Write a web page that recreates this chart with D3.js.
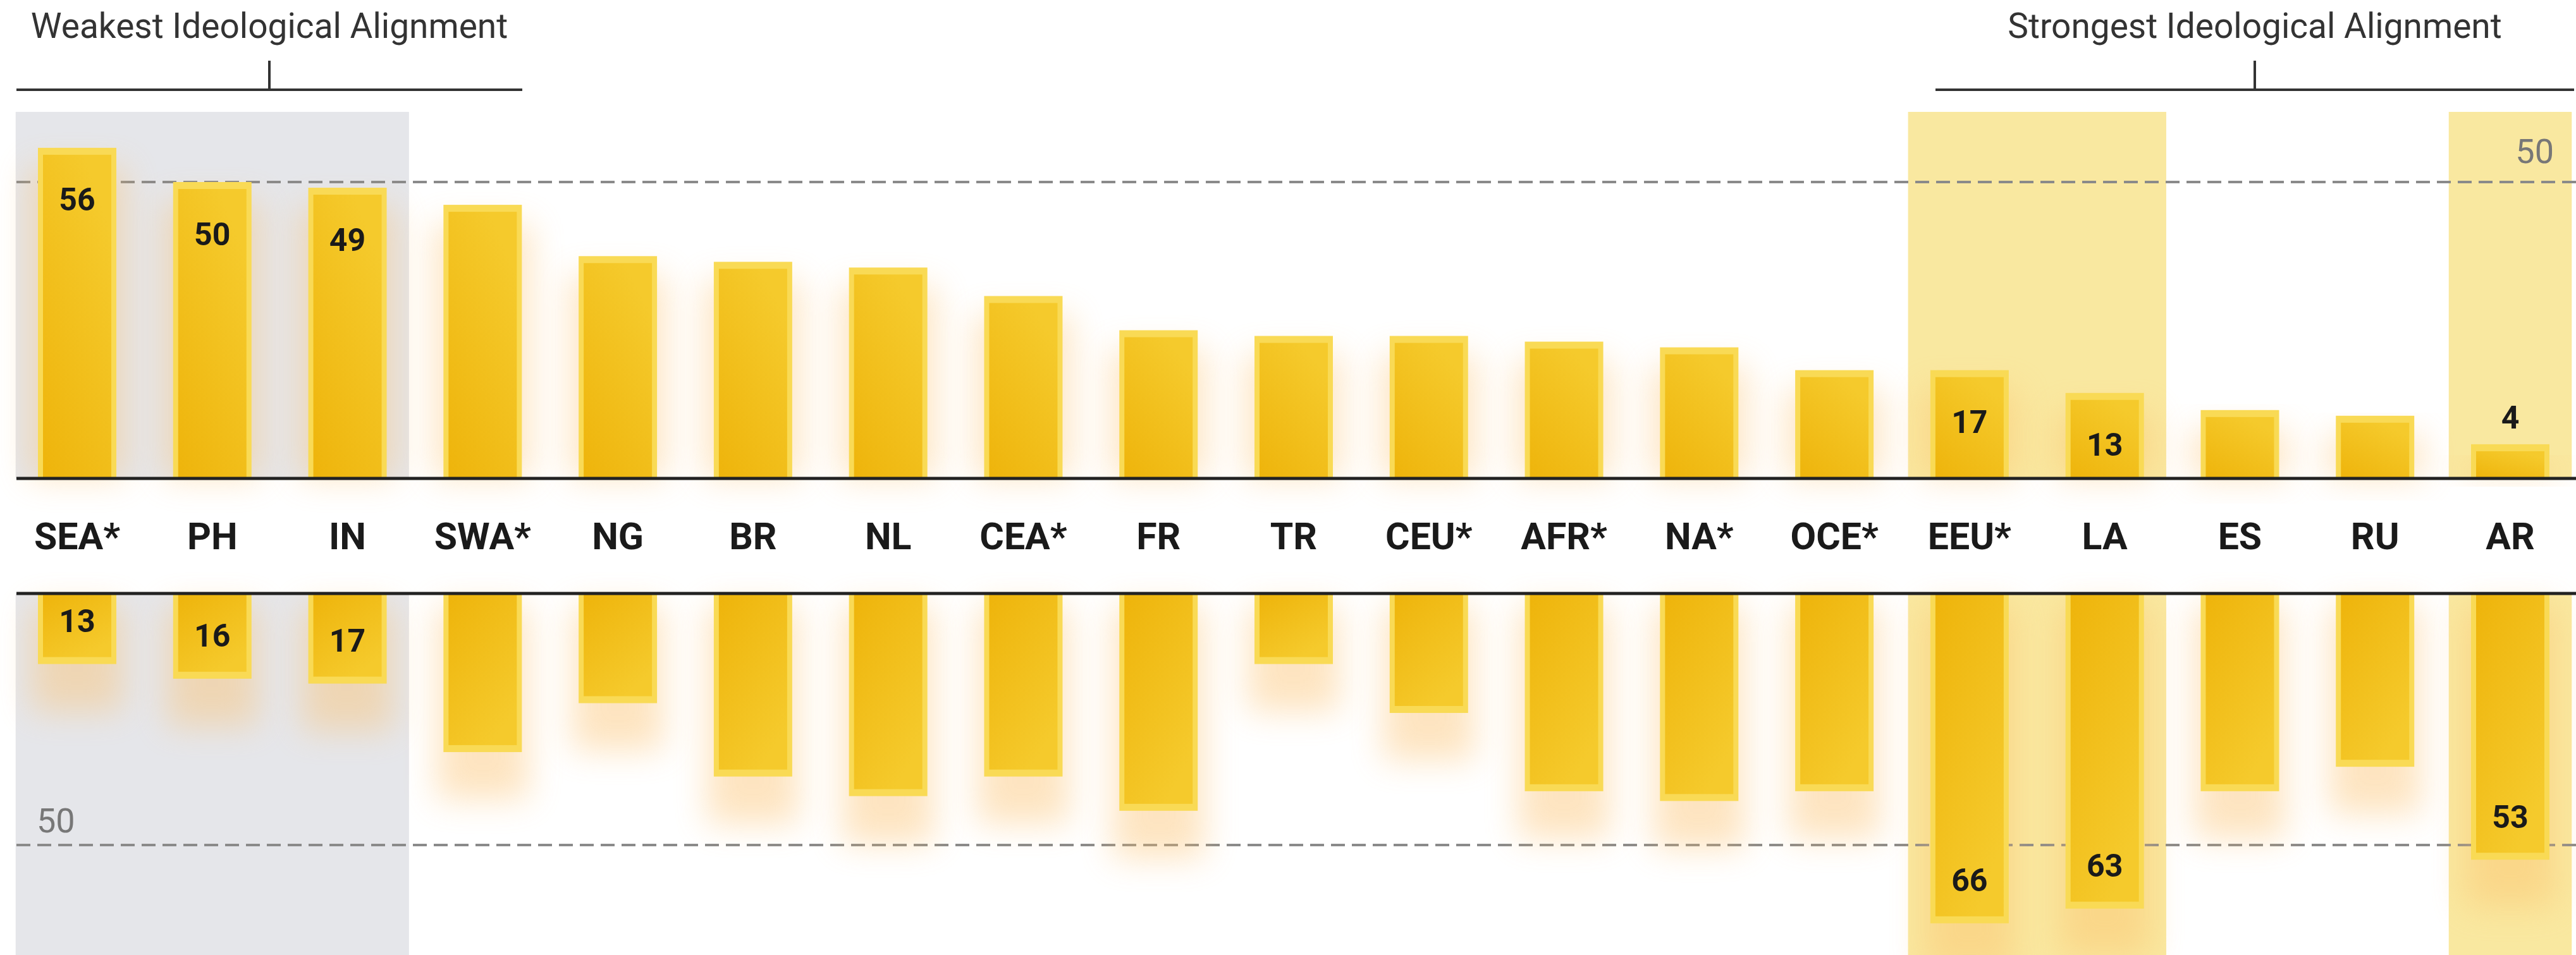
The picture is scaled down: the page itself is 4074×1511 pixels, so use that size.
<!DOCTYPE html>
<html>
<head>
<meta charset="utf-8">
<script src="https://cdn.jsdelivr.net/npm/d3@7"></script>
<style>
  body { margin: 0; background: #fff; }
  text { font-family: Roboto, "Open Sans", sans-serif; }
</style>
</head>
<body>
<script>
// data
var categories = ["SEA*", "PH", "IN", "SWA*", "NG", "BR", "NL", "CEA*", "FR", "TR",
  "CEU*", "AFR*", "NA*", "OCE*", "EEU*", "LA", "ES", "RU", "AR"];
var upperValues = [56, 50, 49, 46, 37, 36, 35, 30, 24, 23, 23, 22, 21, 17, 17, 13, 10, 9, 4];
var lowerValues = [13, 16, 17, 31, 21, 36, 40, 36, 43, 13, 23, 39, 41, 39, 66, 63, 39, 34, 53];
var labelled = ["SEA*", "PH", "IN", "EEU*", "LA", "AR"];
var weakGroup = ["SEA*", "PH", "IN"];
var strongGroups = [["EEU*", "LA"], ["AR"]];
var refValue = 50;
var weakTitle = "Weakest Ideological Alignment";
var strongTitle = "Strongest Ideological Alignment";

var W = 4074, H = 1511;
var left = 26;
var axisTop = 757, axisBottom = 939;
var stub = 18;
var side = 8, cap = 11;

var svg = d3.select("body").append("svg")
  .attr("width", W)
  .attr("height", H);

var defs = svg.append("defs");
defs.append("filter").attr("id", "glow")
  .attr("x", "-100%").attr("y", "-50%").attr("width", "300%").attr("height", "200%")
  .append("feGaussianBlur").attr("stdDeviation", 26);

var gUp = defs.append("linearGradient").attr("id", "gradUp")
  .attr("x1", 0).attr("y1", 1).attr("x2", 0.6).attr("y2", 0);
gUp.append("stop").attr("offset", "0%").attr("stop-color", "#eeb40b");
gUp.append("stop").attr("offset", "100%").attr("stop-color", "#f5ca2c");
var gDown = defs.append("linearGradient").attr("id", "gradDown")
  .attr("x1", 0).attr("y1", 0).attr("x2", 0.6).attr("y2", 1);
gDown.append("stop").attr("offset", "0%").attr("stop-color", "#eeb40b");
gDown.append("stop").attr("offset", "100%").attr("stop-color", "#f5ca2c");

var x = d3.scalePoint().domain(categories).range([122, 3970]);
var step = x.step();
var bw = step * 0.58;

// upper and lower scales (bars start a little past the axis)
var yUp = d3.scaleLinear().domain([0, refValue]).range([axisTop - stub, 288]);
var yDown = d3.scaleLinear().domain([0, refValue]).range([axisBottom + 11, 1337]);

// background bands
var halfBand = step * 0.455;
function band(cats, fill) {
  var x0 = x(cats[0]) - halfBand, x1 = x(cats[cats.length - 1]) + halfBand;
  svg.append("rect").attr("x", x0).attr("y", 177).attr("width", x1 - x0)
    .attr("height", axisTop - 177).attr("fill", fill);
  svg.append("rect").attr("x", x0).attr("y", axisBottom).attr("width", x1 - x0)
    .attr("height", H - axisBottom).attr("fill", fill);
}
band(weakGroup, "#e5e6ea");
strongGroups.forEach(function(g) { band(g, "#f9e8a0"); });

// reference lines at 50
svg.append("line").attr("x1", left).attr("x2", W)
  .attr("y1", yUp(refValue)).attr("y2", yUp(refValue))
  .attr("stroke", "#8a8a8a").attr("stroke-width", 4).attr("stroke-dasharray", "22 11");
svg.append("line").attr("x1", left).attr("x2", W)
  .attr("y1", yDown(refValue)).attr("y2", yDown(refValue))
  .attr("stroke", "#8a8a8a").attr("stroke-width", 4).attr("stroke-dasharray", "22 11");
svg.append("text").attr("x", 4039).attr("y", yUp(refValue) - 30)
  .attr("text-anchor", "end").attr("font-size", 54).attr("fill", "#777")
  .text(refValue);
svg.append("text").attr("x", 58).attr("y", yDown(refValue) - 20)
  .attr("font-size", 54).attr("fill", "#777")
  .text(refValue);

var upData = categories.map(function(c, i) { return { cat: c, v: upperValues[i] }; });
var downData = categories.map(function(c, i) { return { cat: c, v: lowerValues[i] }; });

// glows
svg.append("g").selectAll("rect").data(upData).join("rect")
  .attr("x", function(d) { return x(d.cat) - bw / 2 - 14; })
  .attr("y", function(d) { return yUp(d.v) + 30; })
  .attr("width", bw + 28)
  .attr("height", function(d) { return axisTop - yUp(d.v) - 30; })
  .attr("fill", "#fcc06a").attr("opacity", 0.4)
  .attr("filter", "url(#glow)");
svg.append("g").selectAll("rect").data(downData).join("rect")
  .attr("x", function(d) { return x(d.cat) - bw / 2 - 10; })
  .attr("y", axisBottom + 20)
  .attr("width", bw + 20)
  .attr("height", function(d) { return yDown(d.v) - axisBottom + 55; })
  .attr("fill", "#fcc06a").attr("opacity", 0.42)
  .attr("filter", "url(#glow)");

// upper bars
var up = svg.append("g").selectAll("g").data(upData).join("g");
up.append("rect")
  .attr("x", function(d) { return x(d.cat) - bw / 2; })
  .attr("y", function(d) { return yUp(d.v); })
  .attr("width", bw)
  .attr("height", function(d) { return axisTop - yUp(d.v); })
  .attr("fill", "#f9da55");
up.append("rect")
  .attr("x", function(d) { return x(d.cat) - bw / 2 + side; })
  .attr("y", function(d) { return yUp(d.v) + cap; })
  .attr("width", bw - 2 * side)
  .attr("height", function(d) { return axisTop - yUp(d.v) - cap; })
  .attr("fill", "url(#gradUp)");

// lower bars
var down = svg.append("g").selectAll("g").data(downData).join("g");
down.append("rect")
  .attr("x", function(d) { return x(d.cat) - bw / 2; })
  .attr("y", axisBottom)
  .attr("width", bw)
  .attr("height", function(d) { return yDown(d.v) - axisBottom; })
  .attr("fill", "#f9da55");
down.append("rect")
  .attr("x", function(d) { return x(d.cat) - bw / 2 + side; })
  .attr("y", axisBottom)
  .attr("width", bw - 2 * side)
  .attr("height", function(d) { return yDown(d.v) - axisBottom - cap; })
  .attr("fill", "url(#gradDown)");

// value labels
svg.append("g").selectAll("text")
  .data(upData.filter(function(d) { return labelled.indexOf(d.cat) >= 0; }))
  .join("text")
  .attr("x", function(d) { return x(d.cat); })
  .attr("y", function(d) {
    var h = axisTop - yUp(d.v);
    return h > 120 ? yUp(d.v) + 82 : yUp(d.v) - 42;
  })
  .attr("dy", "0.35em")
  .attr("text-anchor", "middle").attr("font-size", 50).attr("font-weight", 700)
  .attr("fill", "#1a1a1a")
  .text(function(d) { return d.v; });
svg.append("g").selectAll("text")
  .data(downData.filter(function(d) { return labelled.indexOf(d.cat) >= 0; }))
  .join("text")
  .attr("x", function(d) { return x(d.cat); })
  .attr("y", function(d) { return yDown(d.v) - 68; })
  .attr("dy", "0.35em")
  .attr("text-anchor", "middle").attr("font-size", 50).attr("font-weight", 700)
  .attr("fill", "#1a1a1a")
  .text(function(d) { return d.v; });

// axis lines and category labels
svg.append("line").attr("x1", left).attr("x2", W).attr("y1", axisTop).attr("y2", axisTop)
  .attr("stroke", "#222").attr("stroke-width", 5);
svg.append("line").attr("x1", left).attr("x2", W).attr("y1", axisBottom).attr("y2", axisBottom)
  .attr("stroke", "#222").attr("stroke-width", 5);
svg.append("g").selectAll("text").data(categories).join("text")
  .attr("x", function(d) { return x(d); })
  .attr("y", (axisTop + axisBottom) / 2)
  .attr("dy", "0.35em")
  .attr("text-anchor", "middle").attr("font-size", 59).attr("font-weight", 700)
  .attr("fill", "#1a1a1a")
  .text(function(d) { return d; });

// brackets
function bracket(x0, x1, tx, title) {
  svg.append("line").attr("x1", x0).attr("x2", x1).attr("y1", 142).attr("y2", 142)
    .attr("stroke", "#333").attr("stroke-width", 4);
  svg.append("line").attr("x1", tx).attr("x2", tx).attr("y1", 96).attr("y2", 142)
    .attr("stroke", "#333").attr("stroke-width", 4);
  svg.append("text").attr("x", tx).attr("y", 60)
    .attr("text-anchor", "middle").attr("font-size", 55).attr("fill", "#333")
    .text(title);
}
bracket(left, 826, 426, weakTitle);
bracket(3061, 4071, 3566, strongTitle);
</script>
</body>
</html>
